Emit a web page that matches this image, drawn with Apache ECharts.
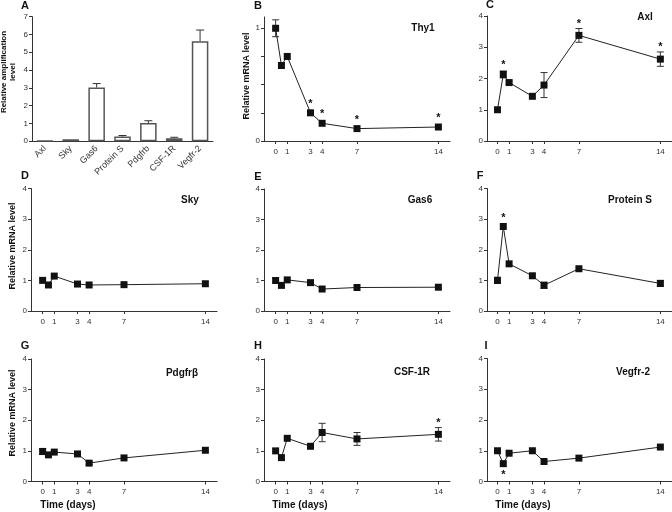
<!DOCTYPE html>
<html><head><meta charset="utf-8">
<script src="https://cdn.jsdelivr.net/npm/echarts@6/dist/echarts.min.js"></script>
<style>html,body{margin:0;padding:0;background:#fff}#c{width:672px;height:512px}</style>
</head><body><div id="c"></div>
<script>
// ---- data ----
const days = [0, 0.5, 1, 3, 4, 7, 14];
const dayTicks = [0, 1, 3, 4, 7, 14];
const genes = ['Axl', 'Sky', 'Gas6', 'Protein S', 'Pdgfrb', 'CSF-1R', 'Vegfr-2'];
const ampl = [0.03, 0.11, 3.02, 0.26, 1.02, 0.17, 5.62];
const amplErr = [0, 0, 0.22, 0.06, 0.13, 0.05, 0.63];
const amplTicks = [0, 1, 2, 3, 4, 5, 6, 7];

const thy1 = [1.0, 0.67, 0.75, 0.25, 0.157, 0.11, 0.124];
const thy1Err = [0.075, 0, 0, 0, 0, 0, 0];
const thy1Stars = [3, 4, 7, 14];
const axl = [1.0, 2.13, 1.87, 1.43, 1.79, 3.38, 2.62];
const axlErr = [0, 0.11, 0.05, 0, 0.4, 0.22, 0.23];
const axlStars = [0.5, 7, 14];
const sky = [1.0, 0.85, 1.14, 0.88, 0.85, 0.86, 0.89];
const skyErr = [0, 0, 0, 0, 0, 0, 0];
const gas6 = [1.0, 0.84, 1.02, 0.93, 0.72, 0.77, 0.78];
const gas6Err = [0, 0, 0, 0, 0, 0, 0];
const proteinS = [1.0, 2.76, 1.54, 1.15, 0.84, 1.38, 0.9];
const proteinSErr = [0.1, 0, 0, 0, 0.1, 0, 0.1];
const proteinSStars = [0.5];
const pdgfrb = [0.98, 0.87, 0.96, 0.9, 0.6, 0.77, 1.02];
const pdgfrbErr = [0.1, 0, 0, 0, 0.05, 0, 0];
const csf1r = [1.0, 0.78, 1.41, 1.15, 1.6, 1.39, 1.54];
const csf1rErr = [0, 0, 0, 0, 0.3, 0.21, 0.22];
const csf1rStars = [14];
const vegfr2 = [1.0, 0.58, 0.92, 1.0, 0.65, 0.76, 1.12];
const vegfr2Err = [0, 0, 0, 0, 0, 0, 0];
const vegfr2StarsBelow = [0.5];
const mrnaTicks = [0, 1, 2, 3, 4];
const thy1Ticks = [0, 0.25, 0.5, 0.75, 1];
const thy1Labels = [0, 1];

// ---- layout ----
const FONT = '"Liberation Sans", Arial, sans-serif';
const AX = '#333';
const panels = [
  {key:'B', name:'Thy1', v:thy1, e:thy1Err, s:thy1Stars, below:[], grid:{left:264, top:17, width:186, height:124}, xmin:-1, xmax:15, ymax:1.1, ticks:thy1Ticks, labels:thy1Labels, letter:[258,6], nameAt:[423,28]},
  {key:'C', name:'Axl', v:axl, e:axlErr, s:axlStars, below:[], grid:{left:487, top:16, width:185, height:125}, xmin:-0.9, xmax:15, ymax:4, ticks:mrnaTicks, labels:mrnaTicks, letter:[490,5], nameAt:[645,17]},
  {key:'D', name:'Sky', v:sky, e:skyErr, s:[], below:[], grid:{left:31, top:188.5, width:186, height:122.5}, xmin:-1, xmax:15, ymax:4, ticks:mrnaTicks, labels:mrnaTicks, letter:[25,176], nameAt:[190,200]},
  {key:'E', name:'Gas6', v:gas6, e:gas6Err, s:[], below:[], grid:{left:264, top:189, width:186, height:122}, xmin:-1, xmax:15, ymax:4, ticks:mrnaTicks, labels:mrnaTicks, letter:[258,177], nameAt:[420,200]},
  {key:'F', name:'Protein S', v:proteinS, e:proteinSErr, s:proteinSStars, below:[], grid:{left:487, top:188.5, width:185, height:122.5}, xmin:-0.9, xmax:15, ymax:4, ticks:mrnaTicks, labels:mrnaTicks, letter:[480,176], nameAt:[630,200]},
  {key:'G', name:'Pdgfr\u03b2', v:pdgfrb, e:pdgfrbErr, s:[], below:[], grid:{left:31, top:359, width:186, height:122.5}, xmin:-1, xmax:15, ymax:4, ticks:mrnaTicks, labels:mrnaTicks, letter:[25,346], nameAt:[182,373]},
  {key:'H', name:'CSF-1R', v:csf1r, e:csf1rErr, s:csf1rStars, below:[], grid:{left:264, top:359, width:186, height:122.5}, xmin:-1, xmax:15, ymax:4, ticks:mrnaTicks, labels:mrnaTicks, letter:[258,346], nameAt:[412,372]},
  {key:'I', name:'Vegfr-2', v:vegfr2, e:vegfr2Err, s:[], below:vegfr2StarsBelow, grid:{left:487, top:358.5, width:185, height:123}, xmin:-0.9, xmax:15, ymax:4, ticks:mrnaTicks, labels:mrnaTicks, letter:[486,346], nameAt:[633,372]}
];

const grids = [], xAxes = [], yAxes = [], series = [], graphics = [];
const axisLine = {show:true, onZero:false, lineStyle:{color:AX, width:1}};
const axisTick = {show:true, length:3, lineStyle:{color:AX, width:1}};
const lbl = {color:'#333', fontSize:8, fontFamily:FONT};

function txt(x, y, text, size, bold, rot) {
  graphics.push({type:'text', x:x, y:y, rotation:rot||0,
    style:{text:text, fill:'#111', font:(bold?'bold ':'')+size+'px '+FONT, textAlign:'center', textVerticalAlign:'middle'}});
}

// Panel A: bar chart
grids.push({left:32, top:16.7, width:181, height:124.5});
xAxes.push({type:'category', gridIndex:0, data:genes, axisLine:axisLine, axisTick:{show:false},
  axisLabel:Object.assign({}, lbl, {fontSize:9, rotate:45, margin:6, interval:0})});
yAxes.push({type:'value', gridIndex:0, min:0, max:7, interval:1, axisLine:axisLine, axisTick:axisTick,
  splitLine:{show:false}, axisLabel:Object.assign({}, lbl, {margin:4})});
series.push({type:'bar', xAxisIndex:0, yAxisIndex:0, data:ampl, barWidth:'64%',
  itemStyle:{color:'#fff', borderColor:'#555', borderWidth:1.5}, z:2});
series.push({type:'custom', xAxisIndex:0, yAxisIndex:0, z:3,
  data:ampl.map((v,i)=>[i, v, amplErr[i]]),
  renderItem:function(p, api){
    const e = api.value(2); if (!(e>0)) return null;
    const a = api.coord([api.value(0), api.value(1)]);
    const b = api.coord([api.value(0), api.value(1)+e]);
    const st = {stroke:'#333', lineWidth:1};
    return {type:'group', children:[
      {type:'line', shape:{x1:a[0], y1:a[1], x2:b[0], y2:b[1]}, style:st},
      {type:'line', shape:{x1:b[0]-4, y1:b[1], x2:b[0]+4, y2:b[1]}, style:st}
    ]};
  }});
txt(25, 6, 'A', 11, true);
graphics.push({type:'text', x:8.5, y:72, rotation:Math.PI/2,
  style:{text:'Relative amplification\nlevel', fill:'#111', font:'bold 8px '+FONT, textAlign:'center', textVerticalAlign:'middle', lineHeight:8.5}});

// line panels
panels.forEach((pn, k) => {
  const gi = k + 1;
  grids.push(pn.grid);
  xAxes.push({type:'value', gridIndex:gi, min:pn.xmin, max:pn.xmax, axisLine:axisLine,
    axisTick:Object.assign({}, axisTick, {customValues:dayTicks}), splitLine:{show:false},
    axisLabel:Object.assign({}, lbl, {customValues:dayTicks, margin:6.5})});
  yAxes.push({type:'value', gridIndex:gi, min:0, max:pn.ymax, axisLine:axisLine,
    axisTick:Object.assign({}, axisTick, {customValues:pn.ticks}), splitLine:{show:false},
    axisLabel:Object.assign({}, lbl, {customValues:pn.labels, margin:4})});
  series.push({type:'custom', xAxisIndex:gi, yAxisIndex:gi, z:2,
    data:days.map((d,i)=>[d, pn.v[i], pn.e[i]]),
    renderItem:function(p, api){
      const e = api.value(2); if (!(e>0)) return null;
      const x = api.value(0), y = api.value(1);
      const a = api.coord([x, y+e]), b = api.coord([x, y-e]);
      const st = {stroke:'#333', lineWidth:1};
      return {type:'group', children:[
        {type:'line', shape:{x1:a[0], y1:a[1], x2:b[0], y2:b[1]}, style:st},
        {type:'line', shape:{x1:a[0]-3.5, y1:a[1], x2:a[0]+3.5, y2:a[1]}, style:st},
        {type:'line', shape:{x1:b[0]-3.5, y1:b[1], x2:b[0]+3.5, y2:b[1]}, style:st}
      ]};
    }});
  series.push({type:'line', xAxisIndex:gi, yAxisIndex:gi, z:3,
    data:days.map((d,i)=>[d, pn.v[i]]), symbol:'rect', symbolSize:7, showSymbol:true,
    lineStyle:{color:'#222', width:1}, itemStyle:{color:'#111'}});
  const starData = [];
  pn.s.forEach(d => { const i = days.indexOf(d); starData.push([d, pn.v[i], pn.e[i], 0]); });
  pn.below.forEach(d => { const i = days.indexOf(d); starData.push([d, pn.v[i], pn.e[i], 1]); });
  if (starData.length) series.push({type:'custom', xAxisIndex:gi, yAxisIndex:gi, z:4, data:starData,
    renderItem:function(p, api){
      const x = api.value(0), y = api.value(1), e = api.value(2), below = api.value(3);
      let px;
      if (below) { px = api.coord([x, y - e]); px = [px[0], px[1] + 11]; }
      else { const t = api.coord([x, y + e]); const c = api.coord([x, y]); px = [t[0], Math.min(t[1] - 5, c[1] - 9)]; }
      return {type:'text', x:px[0], y:px[1], style:{text:'*', fill:'#111', font:'bold 11px '+FONT, textAlign:'center', textVerticalAlign:'middle'}};
    }});
  txt(pn.letter[0], pn.letter[1], pn.key, 11, true);
  txt(pn.nameAt[0], pn.nameAt[1], pn.name, 10, true);
});

// axis titles
graphics.push({type:'text', x:247, y:76, rotation:Math.PI/2, style:{text:'Relative mRNA level', fill:'#111', font:'bold 9px '+FONT, textAlign:'center', textVerticalAlign:'middle'}});
graphics.push({type:'text', x:13, y:246, rotation:Math.PI/2, style:{text:'Relative mRNA level', fill:'#111', font:'bold 9px '+FONT, textAlign:'center', textVerticalAlign:'middle'}});
graphics.push({type:'text', x:13, y:413, rotation:Math.PI/2, style:{text:'Relative mRNA level', fill:'#111', font:'bold 9px '+FONT, textAlign:'center', textVerticalAlign:'middle'}});
txt(68, 505, 'Time (days)', 10, true);
txt(300, 505, 'Time (days)', 10, true);
txt(523, 505, 'Time (days)', 10, true);

const chart = echarts.init(document.getElementById('c'), null, {renderer:'canvas'});
chart.setOption({animation:false, grid:grids, xAxis:xAxes, yAxis:yAxes, series:series, graphic:graphics});
</script></body></html>
